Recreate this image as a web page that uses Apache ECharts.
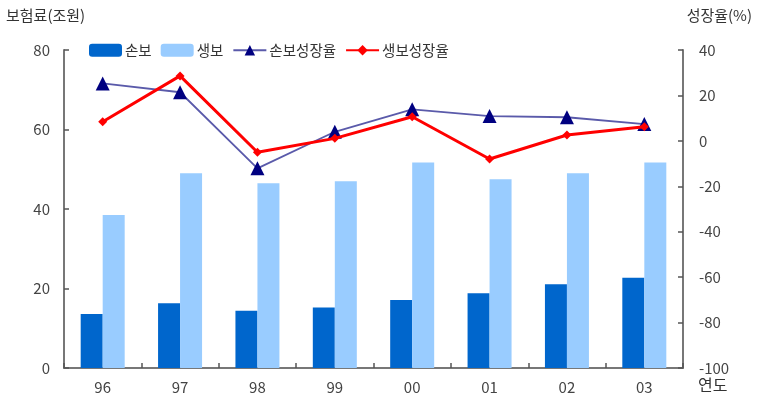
<!DOCTYPE html>
<html><head><meta charset="utf-8">
<script src="https://cdn.jsdelivr.net/npm/echarts@6/dist/echarts.min.js"></script>
<style>html,body{margin:0;padding:0;background:#fff}#c{width:758px;height:409px}</style>
</head><body><div id="c"></div>
<script>
const categories = ['96','97','98','99','00','01','02','03'];
const nonLife = [13.6, 16.3, 14.4, 15.2, 17.1, 18.8, 21.1, 22.7];
const life = [38.5, 49.0, 46.5, 47.0, 51.7, 47.5, 49.0, 51.7];
const nonLifeGrowth = [25.3, 21.4, -12.1, 4.0, 13.9, 10.9, 10.4, 7.4];
const lifeGrowth = [8.4, 28.6, -5.0, 1.1, 10.6, -8.0, 2.6, 6.2];
const leftTicks = {min: 0, max: 80, interval: 20};
const rightTicks = {min: -100, max: 40, interval: 20};

const font = '"Noto Sans CJK KR", sans-serif';
const txt = '#444';
const axisLine = {show: true, lineStyle: {color: '#777', width: 2}};
const chart = echarts.init(document.getElementById('c'));
chart.setOption({
  animation: false,
  textStyle: {fontFamily: font},
  grid: {left: 64, right: 75, top: 50, bottom: 41, containLabel: false},
  legend: {
    top: 38, left: 84, itemGap: 9, itemWidth: 33, itemHeight: 13,
    textStyle: {fontSize: 14.5, color: '#333', fontFamily: font, padding: [0, 0, 0, -2]},
    data: ['손보', '생보', '손보성장율', '생보성장율']
  },
  graphic: [
    {type: 'text', left: 6, top: 8, style: {text: '보험료(조원)', fontSize: 15, fill: '#333', fontFamily: font}},
    {type: 'text', right: 6, top: 8, style: {text: '성장율(%)', fontSize: 15, fill: '#333', fontFamily: font}},
    {type: 'text', left: 698, top: 377, style: {text: '연도', fontSize: 16, fill: '#333', fontFamily: font}}
  ],
  xAxis: {
    type: 'category', data: categories,
    axisLine: axisLine,
    axisTick: {show: true, inside: true, length: 5, lineStyle: {color: '#555', width: 1.5}},
    axisLabel: {color: txt, fontSize: 15, margin: 12, fontFamily: font}
  },
  yAxis: [
    {type: 'value', min: leftTicks.min, max: leftTicks.max, interval: leftTicks.interval,
     axisLine: axisLine, splitLine: {show: false},
     axisTick: {show: true, inside: true, length: 5, lineStyle: {color: '#555', width: 1.5}},
     axisLabel: {color: txt, fontSize: 15, margin: 14, fontFamily: font}},
    {type: 'value', position: 'right', min: rightTicks.min, max: rightTicks.max, interval: rightTicks.interval,
     axisLine: axisLine, splitLine: {show: false},
     axisTick: {show: true, inside: true, length: 5, lineStyle: {color: '#555', width: 1.5}},
     axisLabel: {color: txt, fontSize: 15, margin: 16, fontFamily: font}}
  ],
  series: [
    {name: '손보', type: 'bar', data: nonLife, barWidth: 22, barGap: '0%', itemStyle: {color: '#0066cc'}},
    {name: '생보', type: 'bar', data: life, barWidth: 22, itemStyle: {color: '#99ccff'}},
    {name: '손보성장율', type: 'line', yAxisIndex: 1, data: nonLifeGrowth,
     symbol: 'triangle', symbolSize: 14, lineStyle: {color: '#5a5aaa', width: 1.8},
     itemStyle: {color: '#000080'}, z: 3},
    {name: '생보성장율', type: 'line', yAxisIndex: 1, data: lifeGrowth,
     symbol: 'diamond', symbolSize: 9, lineStyle: {color: '#ff0000', width: 3},
     itemStyle: {color: '#ff0000'}, z: 4}
  ]
});
</script></body></html>
